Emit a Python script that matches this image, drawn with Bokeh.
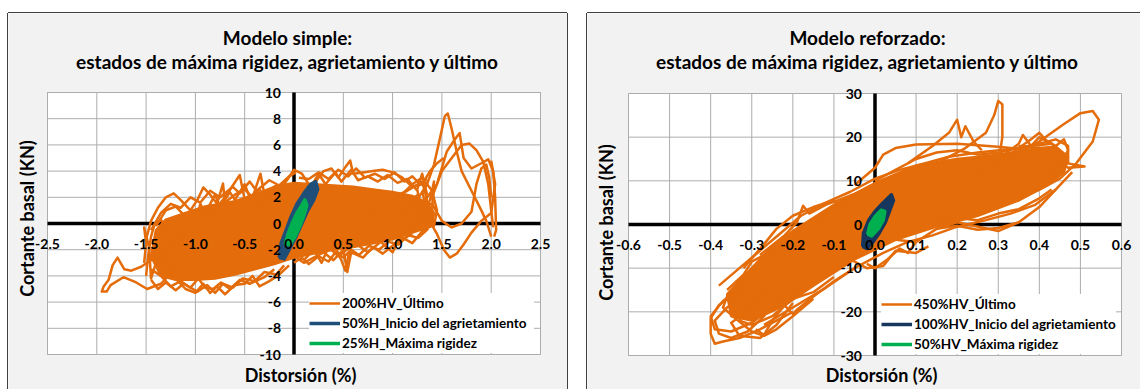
import math
from bokeh.plotting import figure
from bokeh.models import Range1d, Label, LabelSet, Legend, LegendItem, ColumnDataSource
from bokeh.core.properties import value
from bokeh.layouts import row
from bokeh.embed import file_html
from bokeh.resources import INLINE

FONT = "Lato"
ORANGE = "#E46C0A"
GREEN = "#00B050"
GRID = "#ADADAD"

# ---------------- Modelo simple ----------------
simple_title = ["Modelo simple:", "estados de máxima rigidez, agrietamiento y último"]
simple_xticks = [-2.5, -2.0, -1.5, -1.0, -0.5, 0.0, 0.5, 1.0, 1.5, 2.0, 2.5]
simple_yticks = [-10, -8, -6, -4, -2, 0, 2, 4, 6, 8, 10]
simple_labels = ["200%HV_Último", "50%H_Inicio del agrietamiento", "25%H_Máxima rigidez"]
x_title = "Distorsión (%)"
y_title = "Cortante basal (KN)"

# dense part of the 200%HV cloud (outline)
simple_core_x = [-1.45, -1.4, -1.3, -1.1, -0.9, -0.6, -0.4, -0.2, 0.0, 0.2, 0.4, 0.6, 0.8, 1.0, 1.2, 1.35, 1.42,
                 1.4, 1.2, 1.0, 0.8, 0.6, 0.4, 0.2, 0.0, -0.2, -0.4, -0.6, -0.8, -1.0, -1.2, -1.35]
simple_core_y = [-2.5, -0.5, 0.3, 0.8, 1.3, 1.7, 2.2, 2.8, 3.1, 3.0, 2.9, 2.8, 2.6, 2.4, 2.1, 1.6, 0.8,
                 -0.2, -0.7, -1.2, -1.5, -1.8, -2.0, -2.3, -2.6, -3.1, -3.5, -3.9, -4.2, -4.3, -4.3, -4.0]

# 200%HV_Último loops
simple_ultimo = [
    [(-1.3, -2.0), (-1.45, -2.8), (-1.55, -3.3), (-1.65, -3.6), (-1.72, -3.5), (-1.79, -2.6), (-1.84, -3.2),
     (-1.88, -4.3), (-1.93, -4.8), (-1.95, -5.2), (-1.9, -5.2), (-1.86, -4.7), (-1.73, -4.1), (-1.6, -4.5),
     (-1.49, -5.0), (-1.35, -4.6), (-1.25, -3.8), (-1.15, -3.0)],
    [(-1.5, -1.2), (-1.45, 0.2), (-1.38, 1.2), (-1.3, 2.0), (-1.22, 2.3), (-1.15, 1.8), (-1.05, 1.0),
     (-0.98, 1.8), (-0.92, 2.75), (-0.85, 2.2), (-0.78, 1.5), (-0.72, 3.05), (-0.7, 1.6), (-0.6, 2.2),
     (-0.5, 2.6), (-0.42, 2.0), (-0.34, 3.8), (-0.3, 2.2), (-0.2, 2.8), (-0.1, 3.0), (0.0, 4.1),
     (0.08, 3.8), (0.15, 3.0)],
    [(-1.4, -0.2), (-1.3, 1.0), (-1.2, 1.3), (-1.1, 0.5), (-0.95, 1.2), (-0.85, 0.6), (-0.7, 2.0),
     (-0.55, 3.7), (-0.5, 1.8), (-0.4, 1.2), (-0.25, 2.0), (-0.15, 1.6)],
    [(-1.4, -2.0), (-1.3, -3.2), (-1.2, -4.2), (-1.1, -5.0), (-1.0, -5.3), (-0.92, -4.6), (-0.85, -5.3),
     (-0.78, -4.8), (-0.7, -5.4), (-0.6, -4.7), (-0.5, -4.6), (-0.42, -4.0), (-0.35, -4.8), (-0.25, -4.4),
     (-0.15, -3.9), (-0.05, -3.2)],
    [(0.2, 3.0), (0.3, 4.0), (0.38, 4.2), (0.45, 3.5), (0.52, 4.3), (0.57, 4.8), (0.6, 3.8), (0.7, 3.9),
     (0.8, 4.0), (0.9, 4.1), (1.0, 3.9), (1.1, 3.5), (1.2, 2.8), (1.3, 3.0), (1.38, 4.0), (1.45, 4.6),
     (1.52, 5.0)],
    [(1.1, 1.0), (1.25, 1.8), (1.35, 3.0), (1.42, 4.5), (1.48, 6.5), (1.53, 8.2), (1.56, 8.4), (1.6, 7.2),
     (1.65, 5.5), (1.7, 4.0), (1.8, 2.5), (1.9, 1.0), (1.95, 0.2), (1.98, -0.5), (2.0, -1.0)],
    [(1.3, 1.5), (1.45, 3.0), (1.55, 5.5), (1.62, 6.3), (1.68, 6.9), (1.72, 5.0), (1.8, 4.2), (1.9, 4.6),
     (1.97, 4.9), (2.02, 4.0), (2.04, 2.0), (2.05, -0.5), (2.03, -1.0)],
    [(1.4, 2.0), (1.5, 4.0), (1.6, 5.0), (1.7, 6.0), (1.78, 6.1), (1.85, 5.6), (1.92, 4.7), (1.97, 3.0),
     (2.0, 1.0), (2.02, -0.3)],
    [(1.0, 0.5), (1.2, 0.8), (1.35, 0.5), (1.45, -0.8), (1.52, -2.0), (1.58, -2.6), (1.65, -2.3),
     (1.72, -1.6), (1.8, -0.7), (1.9, 0.2), (2.0, 0.8), (2.04, 3.0), (2.0, 4.8)],
    [(0.0, -2.5), (0.1, -3.0), (0.2, -2.6), (0.3, -2.2), (0.4, -2.8), (0.5, -2.0), (0.54, -3.7),
     (0.58, -2.2), (0.7, -2.6), (0.8, -1.8), (0.9, -2.3), (1.0, -1.7), (1.1, -1.2), (1.2, -0.8)],
    [(0.6, 0.0), (0.8, 1.0), (1.0, 2.0), (1.15, 2.5), (1.3, 3.2), (1.35, 1.8), (1.3, 0.2), (1.2, -0.3),
     (1.1, 0.8), (1.25, 2.2)],
    [(1.2, 1.2), (1.4, 1.5), (1.5, 0.2), (1.6, -0.3), (1.7, 0.0), (1.8, 0.9), (1.85, 3.0), (1.9, 4.2),
     (1.95, 4.5), (1.98, 3.5), (2.0, 2.0)],
    [(-1.2, -1.5), (-1.1, -0.5), (-1.0, 0.0), (-0.95, 1.5), (-0.9, 0.8), (-0.8, 2.2), (-0.75, 1.2),
     (-0.65, 2.4), (-0.6, 1.8), (-0.5, 3.0), (-0.45, 2.0), (-0.35, 2.6), (-0.28, 1.8)],
    [(-1.45, -3.5), (-1.35, -4.0), (-1.25, -4.8), (-1.15, -4.4), (-1.05, -4.9), (-0.97, -4.2), (-0.9, -4.9),
     (-0.82, -5.0), (-0.74, -4.5), (-0.65, -5.0), (-0.55, -4.3), (-0.45, -4.6), (-0.3, -4.1), (-0.2, -3.5)],
    [(-1.5, -4.0), (-1.48, -2.5), (-1.45, -1.0), (-1.42, -0.2), (-1.35, 0.3), (-1.28, -0.5), (-1.22, -2.0),
     (-1.15, -1.0)],
    [(0.15, 2.5), (0.25, 3.8), (0.32, 3.0), (0.42, 3.9), (0.48, 3.2), (0.58, 4.1), (0.65, 3.3), (0.75, 3.6),
     (0.85, 3.2), (0.95, 3.7), (1.05, 3.1), (1.15, 3.4), (1.25, 2.5)],
    [(0.1, -2.8), (0.2, -2.0), (0.28, -3.0), (0.35, -1.8), (0.45, -2.5), (0.62, -1.5), (0.75, -2.2),
     (0.88, -1.4), (1.0, -2.2), (1.08, -1.0), (1.2, -1.5), (1.3, -0.6), (1.38, -0.2)],
    [(1.0, 1.5), (1.2, 3.0), (1.3, 3.5), (1.4, 2.5), (1.45, 1.0), (1.42, -0.2), (1.35, 0.8), (1.3, 2.5)],
    [(-1.45, -0.5), (-1.35, 0.8), (-1.25, 1.5), (-1.15, 1.2), (-1.05, 2.0), (-0.95, 1.6), (-0.85, 2.5),
     (-0.75, 2.0), (-0.62, 2.8), (-0.55, 2.3), (-0.45, 3.2), (-0.38, 2.5), (-0.25, 3.3), (-0.15, 2.9),
     (-0.05, 3.6), (0.02, 3.9)],
    [(0.05, 3.5), (0.15, 3.4), (0.25, 3.9), (0.35, 3.4), (0.45, 4.1), (0.55, 3.6), (0.63, 4.2), (0.72, 3.5),
     (0.82, 3.8), (0.92, 3.4), (1.02, 3.9), (1.12, 3.2), (1.2, 3.6), (1.28, 3.0), (1.35, 3.4)],
    [(-1.45, -4.3), (-1.38, -5.0), (-1.3, -4.5), (-1.2, -5.1), (-1.12, -4.6), (-0.98, -5.2), (-0.88, -4.7),
     (-0.8, -5.3), (-0.72, -4.6), (-0.62, -4.9), (-0.52, -4.2), (-0.4, -4.4), (-0.3, -3.7), (-0.18, -3.9),
     (-0.1, -3.2)],
    [(0.0, -3.0), (0.08, -2.6), (0.15, -3.1), (0.25, -2.5), (0.35, -2.9), (0.42, -2.2), (0.5, -2.6),
     (0.58, -2.0), (0.66, -2.4), (0.76, -1.7), (0.86, -2.0), (0.96, -1.4), (1.06, -1.6), (1.16, -0.9),
     (1.26, -1.1), (1.36, -0.4)],
    [(1.2, -0.5), (1.3, 0.5), (1.38, 1.8), (1.42, 3.2), (1.4, 1.0), (1.35, -0.3), (1.3, 0.8), (1.25, 2.6),
     (1.3, 3.8), (1.35, 2.2)],
    [(-1.52, -3.0), (-1.5, -1.5), (-1.52, -0.3), (-1.47, -1.8), (-1.45, -4.2), (-1.4, -3.0), (-1.38, -1.2),
     (-1.33, -2.5)],
    [(0.4, -1.5), (0.48, -2.8), (0.52, -3.6), (0.55, -2.5), (0.6, -1.2)],
]

# 50%H_Inicio del agrietamiento
simple_agriet = [(-0.15, -2.6), (-0.13, -1.5), (-0.08, -0.5), (-0.03, 0.5), (0.03, 1.5), (0.1, 2.3),
                 (0.17, 3.0), (0.22, 3.2), (0.24, 2.6), (0.2, 1.8), (0.14, 1.0), (0.08, 0.0), (0.02, -1.0),
                 (-0.05, -2.0), (-0.1, -2.7), (-0.15, -2.6)]
# 25%H_Máxima rigidez
simple_rigidez = [(-0.09, -1.6), (-0.06, -0.8), (-0.02, 0.0), (0.03, 0.8), (0.08, 1.4), (0.11, 1.8),
                  (0.13, 1.4), (0.1, 0.6), (0.06, -0.2), (0.01, -1.0), (-0.04, -1.6), (-0.09, -1.6)]

# ---------------- Modelo reforzado ----------------
ref_title = ["Modelo reforzado:", "estados de máxima rigidez, agrietamiento y último"]
ref_xticks = [-0.6, -0.5, -0.4, -0.3, -0.2, -0.1, 0.0, 0.1, 0.2, 0.3, 0.4, 0.5, 0.6]
ref_yticks = [-30, -20, -10, 0, 10, 20, 30]
ref_labels = ["450%HV_Último", "100%HV_Inicio del agrietamiento", "50%HV_Máxima rigidez"]

ref_core_x = [-0.36, -0.3, -0.25, -0.2, -0.1, 0.0, 0.1, 0.2, 0.3, 0.4, 0.44, 0.47, 0.46, 0.42,
              0.35, 0.25, 0.15, 0.05, -0.05, -0.15, -0.22, -0.3, -0.35]
ref_core_y = [-16.0, -10.0, -5.0, -1.5, 4.5, 9.5, 13.5, 15.0, 16.0, 17.5, 17.8, 15.5, 12.0, 9.0,
              5.5, 2.0, -0.5, -3.5, -8.0, -14.0, -18.5, -22.0, -21.0]

ref_ultimo = [
    [(-0.2, -20.0), (-0.28, -24.0), (-0.33, -26.0), (-0.37, -26.8), (-0.39, -27.3), (-0.4, -25.0),
     (-0.4, -21.5), (-0.38, -18.5), (-0.34, -15.5), (-0.3, -12.5), (-0.26, -9.5)],
    [(-0.15, -17.0), (-0.2, -21.0), (-0.24, -24.0), (-0.27, -25.5), (-0.3, -24.5), (-0.34, -21.5),
     (-0.37, -19.0), (-0.36, -16.5), (-0.33, -13.5), (-0.29, -10.5)],
    [(-0.18, -14.0), (-0.25, -19.0), (-0.3, -22.5), (-0.35, -24.5), (-0.39, -24.0), (-0.4, -21.0),
     (-0.37, -17.5), (-0.32, -14.0)],
    [(-0.05, -10.0), (-0.1, -13.0), (-0.15, -16.5), (-0.19, -19.5), (-0.2, -20.5), (-0.22, -18.5),
     (-0.25, -22.0), (-0.27, -25.3), (-0.29, -24.0)],
    [(-0.28, -7.0), (-0.22, -2.5), (-0.19, 0.5), (-0.175, 4.3), (-0.16, 2.5), (-0.12, 4.5), (-0.05, 7.0),
     (0.0, 8.5)],
    [(-0.05, 9.0), (0.0, 13.0), (0.02, 16.0), (0.05, 17.5), (0.1, 18.3), (0.2, 18.5), (0.3, 17.8),
     (0.38, 17.0), (0.42, 17.5)],
    [(0.15, 14.0), (0.22, 17.5), (0.27, 21.0), (0.29, 25.0), (0.3, 28.3), (0.31, 27.5), (0.31, 20.0),
     (0.3, 14.0), (0.28, 10.0)],
    [(0.08, 14.0), (0.14, 18.0), (0.18, 21.0), (0.2, 24.0), (0.21, 20.0), (0.22, 22.5), (0.24, 19.0),
     (0.26, 17.0)],
    [(0.2, 10.0), (0.3, 14.0), (0.4, 19.0), (0.46, 23.0), (0.5, 25.5), (0.53, 26.0), (0.545, 24.0),
     (0.53, 19.0), (0.49, 14.0), (0.45, 10.5), (0.4, 8.0), (0.3, 4.0), (0.22, 1.5)],
    [(0.3, 8.0), (0.4, 11.5), (0.47, 14.0), (0.51, 13.3), (0.47, 13.0), (0.44, 15.0), (0.4, 17.5),
     (0.35, 18.0)],
    [(0.0, -3.0), (0.1, -4.0), (0.15, -1.0), (0.2, 0.5), (0.3, -1.5), (0.35, 0.5), (0.4, 4.0), (0.45, 9.0),
     (0.48, 12.0)],
    [(-0.02, -9.0), (0.0, -10.0), (0.03, -8.0), (0.06, -5.5), (0.08, -6.5), (0.1, -4.0)],
    [(0.3, 15.0), (0.35, 18.5), (0.36, 20.5), (0.38, 18.0), (0.4, 20.0), (0.43, 18.5), (0.45, 17.0),
     (0.46, 15.5)],
    [(-0.1, -12.0), (-0.15, -15.5), (-0.2, -17.0), (-0.25, -21.0), (-0.3, -23.0), (-0.33, -22.0),
     (-0.31, -19.0), (-0.27, -16.0)],
    [(-0.36, -15.0), (-0.32, -11.5), (-0.3, -8.5), (-0.26, -6.5), (-0.22, -4.0), (-0.15, 0.5), (-0.1, 3.5),
     (-0.05, 6.0)],
    [(0.0, 10.0), (0.05, 12.5), (0.1, 15.0), (0.15, 16.5), (0.2, 17.0), (0.25, 16.0), (0.3, 16.5),
     (0.35, 17.5), (0.4, 18.5), (0.44, 19.5), (0.47, 18.0), (0.47, 14.0)],
    [(0.05, -3.0), (0.1, -1.5), (0.15, 0.5), (0.2, 1.5), (0.25, 1.0), (0.3, 2.5), (0.35, 3.5), (0.4, 6.0),
     (0.43, 8.0)],
    [(-0.38, -14.0), (-0.33, -10.0), (-0.28, -6.0), (-0.23, -2.0), (-0.18, 2.0), (-0.12, 5.0), (-0.06, 7.5),
     (0.0, 10.5), (0.06, 12.5), (0.12, 14.0), (0.18, 15.5), (0.25, 16.5), (0.32, 17.2), (0.38, 18.0),
     (0.43, 18.5)],
    [(-0.27, -23.0), (-0.2, -19.0), (-0.12, -14.5), (-0.05, -10.0), (0.02, -6.5), (0.08, -4.0), (0.14, -2.5),
     (0.2, -0.5), (0.27, 1.0), (0.33, 2.5), (0.39, 4.5), (0.44, 8.0)],
    [(-0.3, -16.0), (-0.36, -19.0), (-0.39, -22.0), (-0.38, -25.0), (-0.35, -26.0), (-0.31, -24.5),
     (-0.27, -21.0), (-0.25, -17.5), (-0.27, -15.0)],
    [(-0.22, -12.0), (-0.28, -17.0), (-0.32, -20.5), (-0.35, -22.5), (-0.33, -25.5), (-0.28, -26.0),
     (-0.24, -23.0), (-0.2, -18.0)],
    [(-0.32, -10.0), (-0.27, -4.5), (-0.24, -1.0), (-0.2, 2.0), (-0.15, 4.0), (-0.1, 5.5), (-0.08, 4.0),
     (-0.14, 1.5), (-0.2, -2.0)],
    [(0.25, 12.0), (0.32, 15.5), (0.38, 19.5), (0.4, 21.0), (0.42, 19.0), (0.44, 18.0), (0.46, 19.5),
     (0.47, 17.0), (0.44, 12.0), (0.4, 9.5)],
    [(0.15, -1.0), (0.2, -0.3), (0.25, -1.2), (0.3, -0.8), (0.35, 0.5)],
    [(-0.06, -8.0), (-0.02, -10.0), (0.02, -9.5), (0.05, -6.0), (0.1, -6.5), (0.13, -5.0)],
]

ref_agriet = [(-0.03, -5.0), (-0.028, -2.0), (-0.015, 1.0), (0.0, 3.0), (0.02, 5.0), (0.04, 6.8),
              (0.045, 5.5), (0.035, 3.0), (0.025, 0.5), (0.01, -2.0), (-0.005, -4.0), (-0.02, -5.5),
              (-0.03, -5.0)]
ref_rigidez = [(-0.018, -2.2), (-0.012, 0.0), (0.0, 1.8), (0.015, 3.3), (0.024, 3.0), (0.02, 1.0),
               (0.008, -1.0), (-0.008, -2.6), (-0.018, -2.2)]


def xs_of(pts):
    return [pt[0] for pt in pts]


def ys_of(pts):
    return [pt[1] for pt in pts]


def panel(titles, xticks, yticks, core_x, core_y, loops, agriet, rigidez, labels, blue,
          width, height, area, margin, shadow, title_cx, ylab_pos, xlab_pos, legend_label_width):
    # area: pixel box (left, top, right, bottom) of the plotting area inside the canvas
    al, at, ar, ab = area
    sx = (ar - al) / (xticks[-1] - xticks[0])
    sy = (ab - at) / (yticks[-1] - yticks[0])
    x0 = xticks[0] - al / sx
    x1 = xticks[-1] + (width - ar) / sx
    y1 = yticks[-1] + at / sy
    y0 = yticks[0] - (height - ab) / sy

    def dx(px):
        return x0 + px / sx

    def dy(py):
        return y1 - py / sy

    p = figure(width=width, height=height, x_range=Range1d(x0, x1), y_range=Range1d(y0, y1),
               output_backend="svg", toolbar_location=None, title=None, min_border=0,
               background_fill_color="#F2F2F2", border_fill_color="#F2F2F2", margin=margin)
    p.styles = {"box-shadow": shadow}
    p.outline_line_color = None
    p.xaxis.visible = False
    p.yaxis.visible = False
    p.grid.visible = False

    # plotting area, gridlines and the two axes crossing at zero
    p.quad(left=[xticks[0]], right=[xticks[-1]], bottom=[yticks[0]], top=[yticks[-1]],
           fill_color="white", line_color="#BFBFBF", line_width=1)
    p.segment(x0=xticks, y0=[yticks[0]] * len(xticks), x1=xticks, y1=[yticks[-1]] * len(xticks),
              line_color=GRID, line_width=1)
    p.segment(x0=[xticks[0]] * len(yticks), y0=yticks, x1=[xticks[-1]] * len(yticks), y1=yticks,
              line_color=GRID, line_width=1)
    p.segment(x0=[xticks[0], 0], y0=[0, yticks[0]], x1=[xticks[-1], 0], y1=[0, yticks[-1]],
              line_color="black", line_width=3.5)

    p.patch(core_x, core_y, fill_color=ORANGE, line_color=ORANGE, line_width=2.5)
    r_or = p.multi_line([xs_of(l) for l in loops], [ys_of(l) for l in loops],
                        line_color=ORANGE, line_width=2.5, line_join="round")
    p.patch(xs_of(agriet), ys_of(agriet), fill_color=blue, line_color=blue, line_width=2)
    r_bl = p.line(xs_of(agriet), ys_of(agriet), line_color=blue, line_width=3.5, line_join="round")
    p.patch(xs_of(rigidez), ys_of(rigidez), fill_color=GREEN, line_color=GREEN, line_width=2)
    r_gr = p.line(xs_of(rigidez), ys_of(rigidez), line_color=GREEN, line_width=3.5, line_join="round")

    # tick labels at the crossing axes
    tick_style = dict(text_font=value(FONT), text_font_size="14px", text_font_style="bold",
                      text_color="black", text_baseline="middle")
    xsrc = ColumnDataSource(dict(x=xticks, y=[0] * len(xticks), t=["%.1f" % v for v in xticks]))
    ysrc = ColumnDataSource(dict(x=[0] * len(yticks), y=yticks, t=["%d" % v for v in yticks]))
    p.add_layout(LabelSet(x="x", y="y", text="t", source=xsrc, y_offset=-20, text_align="center", **tick_style))
    p.add_layout(LabelSet(x="x", y="y", text="t", source=ysrc, x_offset=-13, text_align="right", **tick_style))

    legend = Legend(items=[LegendItem(label=labels[0], renderers=[r_or]),
                           LegendItem(label=labels[1], renderers=[r_bl]),
                           LegendItem(label=labels[2], renderers=[r_gr])],
                    location=(ar - 39 - legend_label_width, height - ab + 1), orientation="vertical",
                    glyph_width=31, glyph_height=20, label_height=20, label_standoff=2,
                    label_width=legend_label_width,
                    spacing=0, padding=3, margin=0, border_line_color=None,
                    background_fill_color="white", background_fill_alpha=1.0,
                    label_text_font=FONT, label_text_font_size="13.5px",
                    label_text_font_style="bold", label_text_color="black")
    p.add_layout(legend)

    lstyle = dict(text_font=FONT, text_font_style="bold", text_color="black",
                  text_align="center", text_baseline="middle")
    p.add_layout(Label(x=dx(title_cx), y=dy(24), text=titles[0], text_font_size="19px", **lstyle))
    p.add_layout(Label(x=dx(title_cx), y=dy(48), text=titles[1], text_font_size="19px", **lstyle))
    p.add_layout(Label(x=dx(ylab_pos[0]), y=dy(ylab_pos[1]), text=y_title, angle=math.pi / 2,
                       text_font_size="18px", **lstyle))
    p.add_layout(Label(x=dx(xlab_pos[0]), y=dy(xlab_pos[1]), text=x_title, text_font_size="18px", **lstyle))
    return p


LINE = "#404040"
p1 = panel(simple_title, simple_xticks, simple_yticks, simple_core_x, simple_core_y,
           simple_ultimo, simple_agriet, simple_rigidez, simple_labels, "#1F4E79",
           width=559, height=376, area=(39, 79, 532, 341), margin=(13, 0, 0, 8),
           shadow="0 -1px 0 0 %s, -1px 0 0 0 %s, 1px 0 0 0 %s" % (LINE, LINE, LINE),
           title_cx=279, ylab_pos=(18.5, 205), xlab_pos=(292, 361), legend_label_width=192)
p2 = panel(ref_title, ref_xticks, ref_yticks, ref_core_x, ref_core_y,
           ref_ultimo, ref_agriet, ref_rigidez, ref_labels, "#17365D",
           width=553, height=376, area=(41, 80, 534, 342), margin=(13, 0, 0, 20),
           shadow="0 -1px 0 0 %s, -1px 0 0 0 %s" % (LINE, LINE),
           title_cx=280, ylab_pos=(18, 209), xlab_pos=(294, 361), legend_label_width=201)

layout = row(p1, p2)
open("out.html", "w").write(file_html(layout, INLINE))
